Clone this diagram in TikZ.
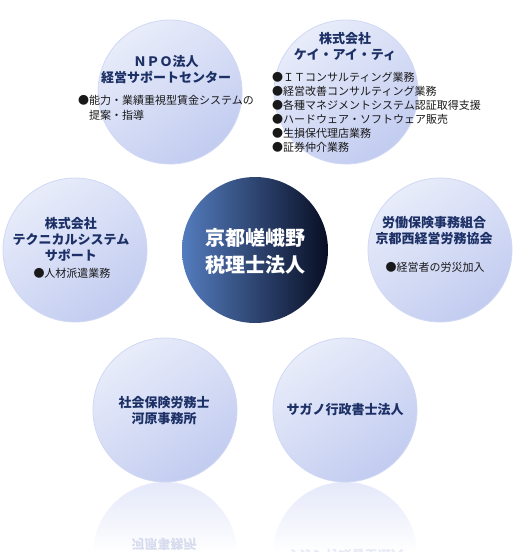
\documentclass[tikz,border=0pt]{standalone}
\usepackage{fontspec}
\newfontfamily\jp{Noto Sans CJK JP}
\definecolor{bubLight}{RGB}{232,236,250}
\definecolor{bubDark}{RGB}{194,204,240}
\definecolor{bubEdge}{RGB}{208,216,244}
\definecolor{hubL}{RGB}{84,124,190}
\definecolor{hubR}{RGB}{8,14,36}
\definecolor{navy}{RGB}{28,48,102}
\definecolor{ink}{RGB}{25,25,25}
\definecolor{reflTop}{RGB}{228,232,249}
\definecolor{reflText}{RGB}{214,219,238}
\begin{document}
\begin{tikzpicture}[x=1pt,y=-1pt,
  bubble/.style={circle, minimum size=144pt, inner sep=0pt, top color=bubLight, bottom color=bubDark, shading angle=35, draw=bubEdge, line width=0.8pt},
  hub/.style={circle, minimum size=146pt, inner sep=0pt, left color=hubL, right color=hubR},
  ttl/.style={font=\jp\bfseries\fontsize{13}{16}\selectfont, text=navy, align=center, inner sep=0pt},
  bul/.style={font=\jp\fontsize{11}{14}\selectfont, text=ink, align=left, inner sep=0pt},
  hubtxt/.style={font=\jp\bfseries\fontsize{20}{27}\selectfont, text=white, align=center, inner sep=0pt},
  refl/.style={font=\jp\bfseries\fontsize{13}{16}\selectfont, text=reflText, align=center, inner sep=0pt, yscale=-1}]
\useasboundingbox (0,0) rectangle (529,552);

% reflections
\begin{scope}
  \clip (165,554) circle (72pt);
  \shade[top color=reflTop, bottom color=white] (90,482) rectangle (240,552);
\end{scope}
\begin{scope}
  \clip (345,554) circle (72pt);
  \shade[top color=reflTop, bottom color=white] (270,482) rectangle (420,552);
\end{scope}
\node[refl] (shakaiR) at (164,552) {社会保険労務士\\河原事務所};
\node[refl, text=reflText!60!white] (saganoR) at (345,555) {サガノ行政書士法人};

% outer bubbles
\node[bubble] (npo) at (170,92) {};
\node[bubble] (kit) at (346,92) {};
\node[bubble] (tech) at (75,250) {};
\node[bubble] (labor) at (440,250) {};
\node[bubble] (shakai) at (165,410) {};
\node[bubble] (sagano) at (345,410) {};
\node[hub] (hub) at (255,250) {};

% texts
\node[ttl] (npoT) at (166,70) {ＮＰＯ法人\\経営サポートセンター};
\node[bul, anchor=west, font=\jp\fontsize{11}{15}\selectfont] (npoB) at (78,107.5) {●能力・業績重視型賃金システムの\\\hspace{11pt}提案・指導};

\node[ttl] (kitT) at (345,47) {株式会社\\ケイ・アイ・ティ};
\node[bul, anchor=west] (kitB) at (272,112) {●ＩＴコンサルティング業務\\●経営改善コンサルティング業務\\●各種マネジメントシステム認証取得支援\\●ハードウェア・ソフトウェア販売\\●生損保代理店業務\\●証券仲介業務};

\node[ttl] (techT) at (71,239) {株式会社\\テクニカルシステム\\サポート};
\node[bul] (techB) at (72,273) {●人材派遣業務};

\node[hubtxt] (hubT) at (255,251.5) {京都嵯峨野\\税理士法人};

\node[ttl] (laborT) at (434,231) {労働保険事務組合\\京都西経営労務協会};
\node[bul] (laborB) at (435,267) {●経営者の労災加入};

\node[ttl] (shakaiT) at (164,411) {社会保険労務士\\河原事務所};
\node[ttl] (saganoT) at (345,410) {サガノ行政書士法人};
\end{tikzpicture}
\end{document}
